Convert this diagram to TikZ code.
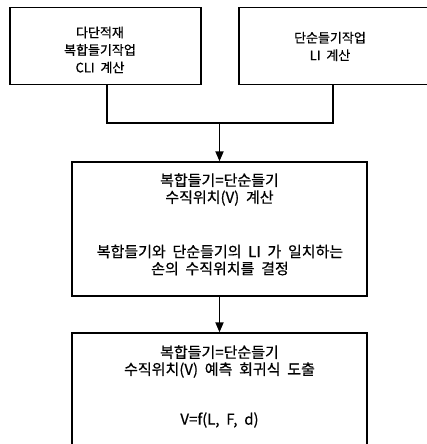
\documentclass[tikz,border=0pt]{standalone}
\usepackage{fontspec}
\newfontfamily\kra[WordSpace=2,FakeBold=0.6]{Noto Sans CJK KR}
\newfontfamily\krb[WordSpace=2,FakeBold=0.6]{Noto Sans CJK KR}
\usetikzlibrary{arrows.meta}
\begin{document}
\begin{tikzpicture}[x=1pt,y=-1pt,
  boxst/.style={draw=black,line width=1.3pt,rectangle,inner sep=0pt},
  txt/.style={align=center,font=\kra\fontsize{13}{17.5}\selectfont,inner sep=0pt},
  txtb/.style={align=center,font=\krb\fontsize{15}{17}\selectfont,inner sep=0pt},
  conn/.style={line width=1.8pt},
  arr/.style={line width=1.8pt,-{Triangle[width=8pt,length=10pt]}}]
\clip (0,0) rectangle (427,444);
\fill[white] (0,0) rectangle (427,444);
% boxes
\node[boxst,minimum width=191pt,minimum height=77pt] (lb) at (105.5,46) {};
\node[boxst,minimum width=201pt,minimum height=77pt] (rb) at (339.5,46) {};
\node[boxst,minimum width=295pt,minimum height=134pt] (mb) at (219.5,229) {};
\node[boxst,minimum width=295pt,minimum height=120pt] (bb) at (219.5,393) {};
% texts
\node[txt] (lt) at (100,50) {다단적재\\복합들기작업\\CLI 계산};
\node[txt] (rt) at (330,46.5) {단순들기작업\\LI 계산};
\node[txtb] (mt1) at (219.5,189.5) {복합들기=단순들기\\수직위치(V) 계산};
\node[txtb] (mt2) at (220,260) {복합들기와 단순들기의 LI 가 일치하는\\손의 수직위치를 결정};
\node[txtb] (bt1) at (219.5,361.5) {복합들기=단순들기\\수직위치(V) 예측 회귀식 도출};
\node[txtb] (bt2) at (219.5,420) {V=f(L, F, d)};
% connectors
\coordinate (j) at (219.5,123);
\draw[conn] ([xshift=1.5pt]lb.south) |- (j);
\draw[conn] ([xshift=-6.5pt]rb.south) |- (j);
\draw[arr] (j) -- (mb.north);
\draw[arr] (mb.south) -- (bb.north);
\end{tikzpicture}
\end{document}
